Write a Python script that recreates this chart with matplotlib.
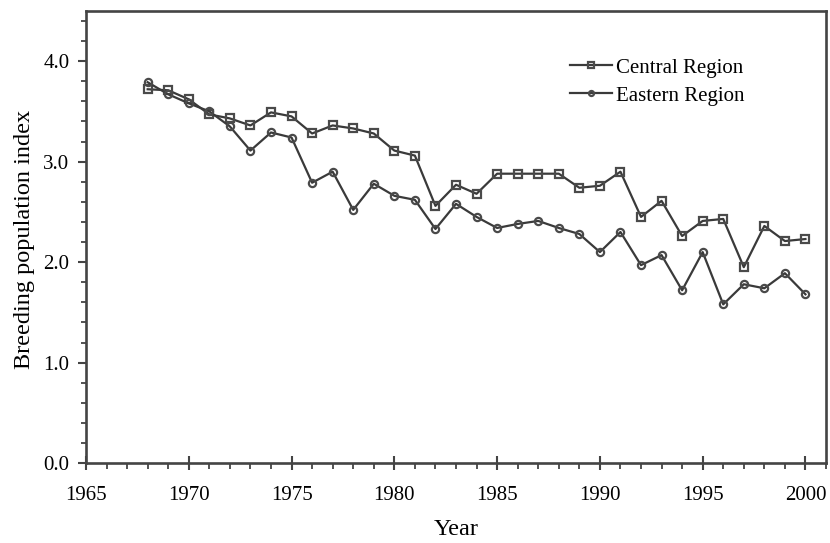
import matplotlib
matplotlib.use("Agg")
import matplotlib.pyplot as plt
from matplotlib.ticker import MultipleLocator, FormatStrFormatter

plt.rcParams['font.family'] = ['Liberation Serif', 'DejaVu Serif']

years = list(range(1968, 2001))
central = [3.72, 3.71, 3.62, 3.47, 3.43, 3.36, 3.49, 3.45, 3.28, 3.36,
           3.33, 3.28, 3.11, 3.06, 2.56, 2.77, 2.68, 2.88, 2.88, 2.88,
           2.88, 2.74, 2.76, 2.90, 2.45, 2.61, 2.26, 2.41, 2.43, 1.95,
           2.36, 2.21, 2.23]
eastern = [3.79, 3.67, 3.58, 3.50, 3.35, 3.11, 3.29, 3.24, 2.79, 2.90,
           2.52, 2.78, 2.66, 2.62, 2.33, 2.58, 2.45, 2.34, 2.38, 2.41,
           2.34, 2.28, 2.10, 2.30, 1.97, 2.07, 1.72, 2.10, 1.58, 1.78,
           1.74, 1.89, 1.68]
series_names = ["Central Region", "Eastern Region"]

line_col = "#3a3a3a"
mark_col = "#4a4a4a"
axis_col = "#444444"
fs = 15
label_fs = 17.5

fig = plt.figure(figsize=(8.3, 5.43), dpi=100)
ax = fig.add_axes([0.1036, 0.147, 0.8916, 0.833])

ax.plot(years, central, color=line_col, lw=1.6, marker='s', ms=5.6,
        mfc='none', mec=mark_col, mew=1.6, label=series_names[0])
ax.plot(years, eastern, color=line_col, lw=1.6, marker='o', ms=5.2,
        mfc='none', mec=mark_col, mew=1.6, label=series_names[1])

ax.set_xlim(1965, 2001)
ax.set_ylim(0, 4.5)
ax.xaxis.set_major_locator(MultipleLocator(5))
ax.xaxis.set_minor_locator(MultipleLocator(1))
ax.yaxis.set_major_locator(MultipleLocator(1.0))
ax.yaxis.set_minor_locator(MultipleLocator(0.2))
ax.yaxis.set_major_formatter(FormatStrFormatter('%.1f'))

for s in ax.spines.values():
    s.set_color(axis_col)
    s.set_linewidth(1.9)

ax.tick_params(axis='x', which='major', direction='inout', length=9.5,
               width=1.5, color=axis_col, labelsize=fs, pad=12)
ax.tick_params(axis='x', which='minor', direction='out', length=4.5,
               width=1.3, color=axis_col)
ax.tick_params(axis='y', which='major', direction='out', length=5.5,
               width=1.5, color=axis_col, labelsize=fs, pad=6.5)
ax.tick_params(axis='y', which='minor', direction='out', length=3.5,
               width=1.3, color=axis_col)

ax.set_xlabel("Year", fontsize=label_fs)
ax.set_ylabel("Breeding population index", fontsize=label_fs)
ax.xaxis.set_label_coords(0.5, -0.146)
ax.xaxis.label.set_verticalalignment('center')
ax.yaxis.set_label_coords(-0.0835, 0.494)
ax.yaxis.label.set_verticalalignment('center')

leg = ax.legend(loc='center', bbox_to_anchor=(0.772, 0.843), frameon=False,
                fontsize=fs, handlelength=2.0, handletextpad=0.2,
                labelspacing=0.4, markerscale=0.7, borderpad=0)

fig.savefig("out.png", dpi=100)
